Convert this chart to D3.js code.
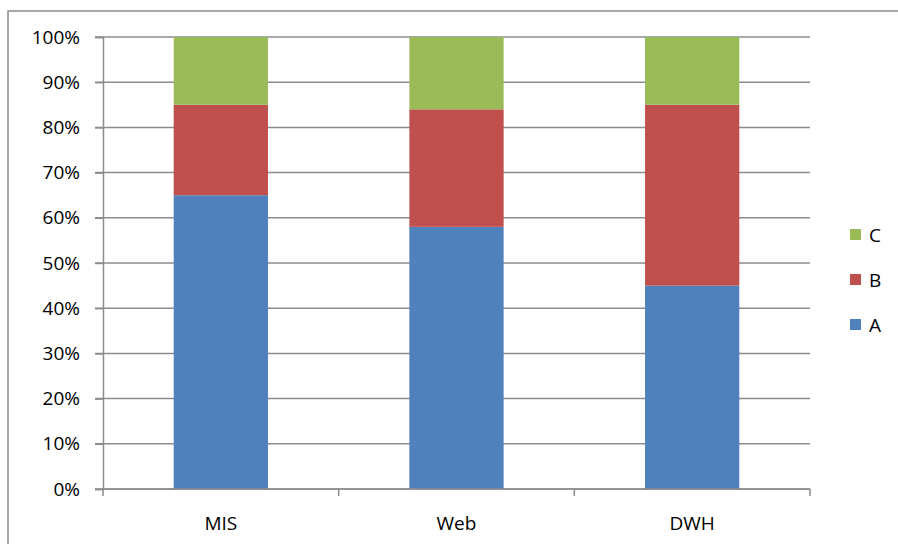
<!DOCTYPE html>
<html>
<head>
<meta charset="utf-8">
<script src="https://cdn.jsdelivr.net/npm/d3@7"></script>
<style>
  body { margin: 0; background: #fff; }
  text { font-family: "Open Sans", "Liberation Sans", sans-serif; fill: #000; }
</style>
</head>
<body>
<svg></svg>
<script>
let width = 898;
let height = 544;

// data
const categories = ["MIS", "Web", "DWH"];
const seriesNames = ["A", "B", "C"];
const valuesA = [65, 58, 45];
const valuesB = [20, 26, 40];
const valuesC = [15, 16, 15];
const colors = ["#4F81BD", "#C0504D", "#9BBB59"];
const yTicks = [0, 10, 20, 30, 40, 50, 60, 70, 80, 90, 100];

let svg = d3.select("svg").attr("width", width).attr("height", height);

// outer frame (clipped by the picture on right / bottom)
svg.append("rect")
  .attr("x", 8).attr("y", 11)
  .attr("width", 900).attr("height", 545)
  .attr("fill", "none").attr("stroke", "#8c8c8c").attr("stroke-width", 1.5);

const margin = { left: 103, right: 810, top: 37, bottom: 489 };

let x = d3.scaleBand().domain(categories).range([margin.left, margin.right]).paddingInner(0.6).paddingOuter(0.3);
let y = d3.scaleLinear().domain([0, 100]).range([margin.bottom, margin.top]);

// gridlines
svg.append("g")
  .selectAll("line")
  .data(yTicks)
  .enter()
  .append("line")
  .attr("x1", margin.left - 8)
  .attr("x2", margin.right)
  .attr("y1", (d) => y(d))
  .attr("y2", (d) => y(d))
  .attr("stroke", "#8c8c8c")
  .attr("stroke-width", 1.5);

// stack
const rows = categories.map((c, i) => ({ cat: c, A: valuesA[i], B: valuesB[i], C: valuesC[i] }));
const stacked = d3.stack().keys(seriesNames)(rows);

svg.append("g")
  .selectAll("g")
  .data(stacked)
  .enter()
  .append("g")
  .attr("fill", (d, i) => colors[i])
  .selectAll("rect")
  .data((d) => d)
  .enter()
  .append("rect")
  .attr("x", (d) => x(d.data.cat))
  .attr("width", x.bandwidth())
  .attr("y", (d) => y(d[1]))
  .attr("height", (d) => y(d[0]) - y(d[1]));

// y axis
let yAxis = d3.axisLeft(y).tickValues(yTicks).tickFormat((d) => d + "%").tickSize(8).tickPadding(15);
let gy = svg.append("g").attr("transform", `translate(${margin.left},0)`).call(yAxis);
gy.select(".domain").attr("stroke", "#8c8c8c").attr("stroke-width", 1.5);
gy.selectAll(".tick line").attr("stroke", "#8c8c8c").attr("stroke-width", 1.5);
gy.selectAll("text").style("font-size", "19px").attr("fill", "#111");

// x axis
let xAxis = d3.axisBottom(x).tickSize(0).tickPadding(28);
let gx = svg.append("g").attr("transform", `translate(0,${margin.bottom})`).call(xAxis);
gx.select(".domain").remove();
gx.selectAll("text").style("font-size", "19px").attr("fill", "#111");

// x baseline + category separators
svg.append("line")
  .attr("x1", margin.left).attr("x2", margin.right)
  .attr("y1", margin.bottom).attr("y2", margin.bottom)
  .attr("stroke", "#8c8c8c").attr("stroke-width", 1.5);
const step = (margin.right - margin.left) / categories.length;
svg.append("g")
  .selectAll("line")
  .data(d3.range(categories.length + 1))
  .enter()
  .append("line")
  .attr("x1", (d) => margin.left + d * step)
  .attr("x2", (d) => margin.left + d * step)
  .attr("y1", margin.bottom)
  .attr("y2", margin.bottom + 7)
  .attr("stroke", "#8c8c8c").attr("stroke-width", 1.5);

// legend (C on top)
const legendItems = seriesNames.map((s, i) => ({ name: s, color: colors[i] })).reverse();
let legend = svg.append("g")
  .selectAll("g")
  .data(legendItems)
  .enter()
  .append("g")
  .attr("transform", (d, i) => `translate(850,${229 + i * 45})`);
legend.append("rect").attr("width", 11).attr("height", 11).attr("fill", (d) => d.color);
legend.append("text")
  .attr("x", 19).attr("y", 6).attr("dy", "0.35em")
  .style("font-size", "19px")
  .attr("fill", "#111")
  .text((d) => d.name);
</script>
</body>
</html>
